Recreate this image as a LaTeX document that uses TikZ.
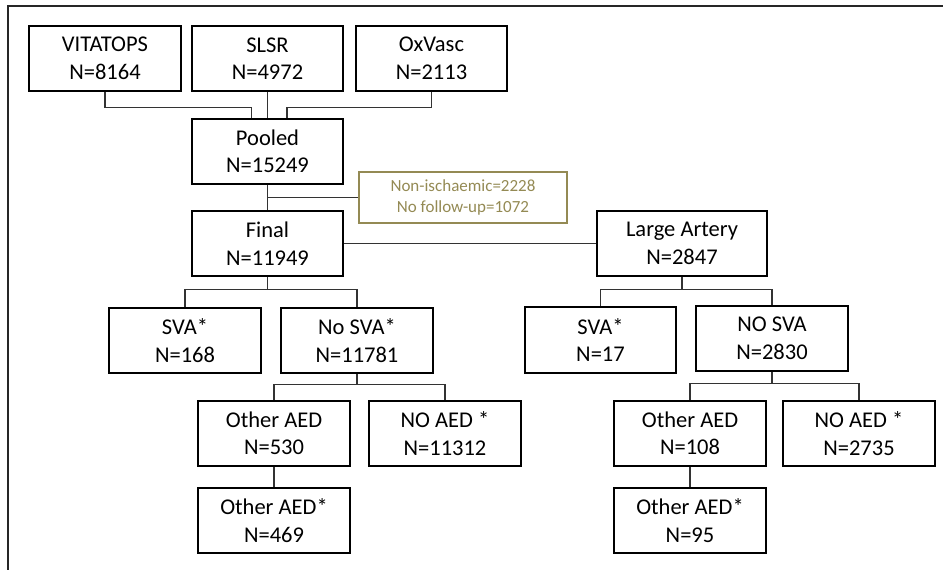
\documentclass[tikz,border=0pt]{standalone}
\usepackage{fontspec}
\setmainfont{Carlito}
\definecolor{olive}{HTML}{948A54}
\definecolor{linegray}{HTML}{333333}
\begin{document}
\begin{tikzpicture}[x=1pt,y=-1pt,
  box/.style={draw=black,line width=2.8pt,minimum width=152pt,minimum height=65pt,
    inner sep=0pt,align=center,font=\fontsize{22.5}{27.5}\selectfont,text=black},
  notebox/.style={draw=olive,line width=2.3pt,minimum width=208pt,minimum height=51pt,
    inner sep=0pt,align=center,font=\fontsize{17}{21.5}\selectfont,text=olive},
  conn/.style={draw=linegray,line width=1.4pt},
  frame/.style={draw=black!85,line width=2.6pt}]
\useasboundingbox (0,0) rectangle (943,570);
\coordinate (fTL) at (8,6);
\coordinate (fTR) at (943,6);
\coordinate (fBL) at (8,570);
\draw[frame] (fTR) -- (fTL) -- (fBL);

\node[box] (vit) at (105,58.5) {VITATOPS\\N=8164};
\node[box,minimum width=151pt] (slsr) at (267.5,58.5) {SLSR\\N=4972};
\node[box,minimum width=151pt] (ox) at (431.5,58.5) {OxVasc\\N=2113};
\node[box,minimum width=151pt] (pool) at (267.5,151.5) {Pooled\\N=15249};
\node[notebox] (note) at (463,197.5) {Non-ischaemic=2228\\No follow-up=1072};
\node[box,minimum width=151pt] (final) at (267.5,243.5) {Final\\N=11949};
\node[box,minimum width=170pt] (la) at (682,243.5) {Large Artery\\N=2847};
\node[box] (sva1) at (185,340.5) {SVA*\\N=168};
\node[box] (nosva1) at (357,340.5) {No SVA*\\N=11781};
\node[box,minimum width=151pt,minimum height=66pt] (sva2) at (600.5,340) {SVA*\\N=17};
\node[box] (nosva2) at (772,338.5) {NO SVA\\N=2830};
\node[box] (oth1) at (274,433.5) {Other AED\\N=530};
\node[box] (noaed1) at (445,433.5) {NO AED *\\N=11312};
\node[box] (oths1) at (274,520.5) {Other AED*\\N=469};
\node[box] (oth2) at (690,433.5) {Other AED\\N=108};
\node[box] (noaed2) at (859,433.5) {NO AED *\\N=2735};
\node[box] (oths2) at (690,520.5) {Other AED*\\N=95};

% sources to pooled
\draw[conn] (vit.south) -- ++(0,15) -| ([xshift=-16pt]pool.north);
\draw[conn] (slsr.south) -- (pool.north);
\draw[conn] (ox.south) -- ++(0,15) -| ([xshift=19.5pt]pool.north);
% pooled to final, exclusion note
\draw[conn] (pool.south) -- (final.north);
\draw[conn] (pool.south |- note.west) -- (note.west);
% final to large artery
\draw[conn] (final.east) -- (la.west);
% final children
\draw[conn] (final.south) -- ++(0,12) -| (sva1.north);
\draw[conn] (final.south) -- ++(0,12) -| (nosva1.north);
% large artery children
\draw[conn] (la.south) -- ++(0,12) -| (sva2.north);
\draw[conn] (la.south) -- ++(0,12) -| (nosva2.north);
% no SVA* children
\draw[conn] (nosva1.south) -- ++(0,10) -| (oth1.north);
\draw[conn] (nosva1.south) -- ++(0,10) -| (noaed1.north);
\draw[conn] (oth1.south) -- (oths1.north);
% NO SVA children
\draw[conn] (nosva2.south) -- ++(0,11) -| (oth2.north);
\draw[conn] (nosva2.south) -- ++(0,11) -| (noaed2.north);
\draw[conn] (oth2.south) -- (oths2.north);
\end{tikzpicture}
\end{document}
